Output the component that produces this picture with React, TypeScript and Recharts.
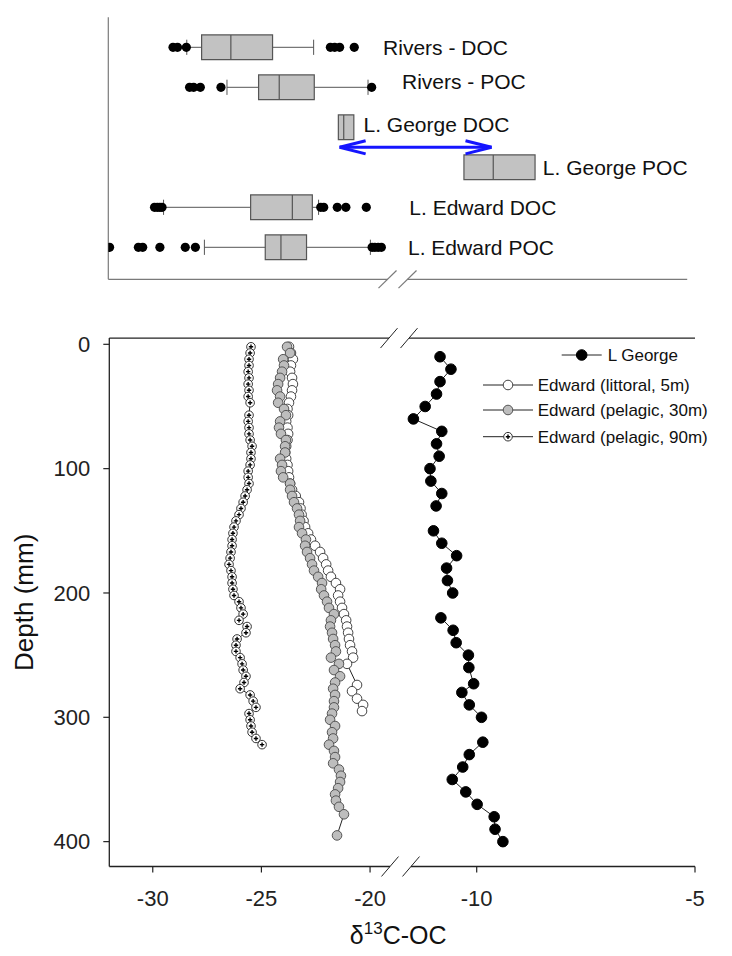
import React from "react";
import {
  ComposedChart,
  Scatter,
  XAxis,
  YAxis,
  ReferenceArea,
  ReferenceLine,
  Legend,
} from "recharts";

const FONT = "'Liberation Sans', Arial, Helvetica, sans-serif";

// δ13C axis, broken between about -19 and -11.5
const xTicks = [-30, -25, -20, -10, -5];
const X_MIN = -32;
const X_MAX = -5;

// upper panel: box plots, top row first
const boxNames = [
  "Rivers - DOC",
  "Rivers - POC",
  "L. George DOC",
  "L. George POC",
  "L. Edward DOC",
  "L. Edward POC",
];
const boxRows = [6, 5, 4, 3, 2, 1];
const whiskerLow = [-28.35, -26.48, -21.3, -10.18, -29.43, -27.53];
const quartile1 = [-27.66, -25.01, -21.3, -10.18, -25.38, -24.7];
const medians = [-26.3, -24.05, -21.05, -9.5, -23.44, -23.97];
const quartile3 = [-24.36, -22.42, -20.58, -8.53, -22.51, -22.78];
const whiskerHigh = [-22.45, -19.92, -20.58, -8.53, -22.22, -19.81];
const outliers = [
  [-28.99, -28.78, -28.37, -21.67, -21.47, -21.24, -20.56],
  [-28.22, -28.03, -27.72, -26.76, -19.75],
  [],
  [],
  [-29.85, -29.72, -29.6, -29.5, -22.12, -21.98, -21.35, -20.95, -20.0],
  [-31.94, -30.6, -30.4, -29.6, -28.42, -27.95, -19.73, -19.6, -19.45, -19.3],
];
const labelAt = [-19.22, -18.34, -20.13, -8.35, -18.0, -18.06];
const labelShift = [0, 0.13, 0.06, 0, 0, 0];
const arrowSpan = [-21.24, -9.54];

// lower panel: depth profiles (depth mm, δ13C)
const georgeDepth = [
  10, 20, 30, 40, 50, 60, 70, 80, 90, 100, 110, 120, 130, 140, 150, 160, 170,
  180, 190, 200, 210, 220, 230, 240, 250, 260, 273, 280, 290, 300, 310, 320,
  330, 340, 350, 360, 370, 380, 390, 400,
];
const georgeD13C = [
  -10.84, -10.59, -10.84, -10.92, -11.18, -11.45, -10.8, -10.92, -10.86,
  -11.07, -11.05, -10.8, -10.93, null, -10.99, -10.8, -10.46, -10.69, -10.67,
  -10.55, null, -10.82, -10.54, -10.47, -10.19, -10.18, -10.07, -10.34,
  -10.17, -9.89, null, -9.86, -10.17, -10.32, -10.56, -10.25, -9.99, -9.6,
  -9.58, -9.4,
];
const edward5m = [
  [2, -23.73], [7, -23.64], [12, -23.55], [17, -23.64], [22, -23.68],
  [27, -23.59], [32, -23.55], [37, -23.59], [42, -23.64], [47, -23.73],
  [52, -23.8], [57, -23.77], [62, -23.86], [67, -23.8], [72, -23.77],
  [77, -23.8], [82, -23.86], [87, -23.9], [92, -23.86], [97, -23.8],
  [102, -23.77], [107, -23.73], [112, -23.68], [117, -23.59], [122, -23.42],
  [127, -23.27], [132, -23.2], [137, -23.15], [142, -23.06], [147, -22.99],
  [152, -22.85], [157, -22.72], [162, -22.53], [167, -22.3], [172, -22.16],
  [177, -22.02], [182, -21.93], [187, -21.8], [192, -21.57], [197, -21.38],
  [202, -21.47], [207, -21.38], [212, -21.29], [217, -21.2], [222, -21.1],
  [227, -21.06], [232, -21.01], [237, -20.97], [242, -20.92], [247, -20.83],
  [252, -20.78], [257, -21.06], [274, -20.6], [279, -20.83], [285, -20.6],
  [290, -20.32], [295, -20.37],
];
const edward30m = [
  [2, -23.82], [7, -23.68], [12, -24.0], [17, -23.96], [22, -24.05],
  [27, -24.14], [32, -24.23], [37, -24.28], [42, -24.14], [47, -24.23],
  [52, -23.96], [57, -23.87], [62, -24.14], [67, -24.19], [72, -24.1],
  [77, -23.87], [82, -23.91], [87, -23.91], [92, -24.14], [97, -24.05],
  [102, -24.1], [107, -24.0], [112, -23.68], [117, -23.68], [122, -23.59],
  [127, -23.5], [132, -23.36], [137, -23.27], [142, -23.22], [147, -23.27],
  [152, -23.13], [157, -22.95], [162, -22.99], [167, -22.9], [172, -22.76],
  [177, -22.67], [182, -22.58], [187, -22.39], [192, -22.21], [197, -22.25],
  [202, -22.12], [207, -21.98], [212, -21.89], [217, -21.66], [222, -21.8],
  [227, -21.84], [232, -21.75], [237, -21.7], [242, -21.61], [247, -21.57],
  [252, -21.8], [257, -21.43], [262, -21.66], [267, -21.38], [272, -21.61],
  [277, -21.7], [282, -21.61], [287, -21.66], [292, -21.66], [297, -21.75],
  [302, -21.84], [307, -21.61], [312, -21.75], [317, -21.7], [322, -21.89],
  [327, -21.66], [332, -21.61], [337, -21.7], [342, -21.43], [347, -21.34],
  [352, -21.38], [357, -21.47], [362, -21.61], [367, -21.57], [372, -21.43],
  [378, -21.2], [395, -21.52],
];
const edward90m = [
  [2, -25.48], [7, -25.52], [12, -25.57], [17, -25.57], [22, -25.61],
  [27, -25.57], [32, -25.61], [37, -25.57], [42, -25.61], [47, -25.52],
  [57, -25.57], [62, -25.61], [67, -25.57], [72, -25.57], [77, -25.52],
  [82, -25.43], [87, -25.48], [92, -25.48], [97, -25.52], [102, -25.61],
  [107, -25.61], [112, -25.57], [117, -25.66], [122, -25.75], [127, -25.84],
  [132, -25.94], [137, -26.03], [142, -26.17], [147, -26.26], [152, -26.31],
  [157, -26.35], [162, -26.35], [167, -26.4], [172, -26.44], [177, -26.49],
  [182, -26.4], [187, -26.35], [192, -26.35], [197, -26.31], [202, -26.26],
  [207, -26.03], [212, -25.94], [217, -25.84], [222, -26.03], [227, -25.66],
  [232, -25.71], [237, -26.12], [242, -26.17], [247, -26.17], [252, -25.98],
  [257, -25.89], [262, -25.84], [267, -25.71], [272, -25.8], [277, -25.98],
  [282, -25.52], [287, -25.38], [292, -25.25], [297, -25.57], [302, -25.52],
  [307, -25.48], [312, -25.43], [317, -25.25], [322, -24.97],
];
const depthTicks = [0, 100, 200, 300, 400];

// each panel has its own pixel pitch left and right of the break
function breakScale(pxLeft: number, pxRight: number, atMinus10: number) {
  return (v: number) =>
    v <= -15 ? (v - X_MIN) * pxLeft : atMinus10 + (v + 10) * pxRight;
}
const uTop = breakScale(21.5, 43.1, 363.4);
const uBot = breakScale(21.73, 43.66, 367.4);

const markers: Record<string, any> = {
  george: { r: 5.3, fill: "#000", stroke: "#000" },
  littoral: { r: 4.8, fill: "#fff", stroke: "#444" },
  pelagic30: { r: 4.8, fill: "#bdbdbd", stroke: "#555" },
  pelagic90: { r: 4.3, fill: "#fff", stroke: "#333", cross: true },
};

const legendRows = [
  { key: "george", name: "L George" },
  { key: "littoral", name: "Edward (littoral, 5m)" },
  { key: "pelagic30", name: "Edward (pelagic, 30m)" },
  { key: "pelagic90", name: "Edward (pelagic, 90m)" },
];

function Marker({ cx, cy, kind }: { cx: number; cy: number; kind: string }) {
  const m = markers[kind];
  if (cx == null || cy == null) return null;
  return (
    <g>
      <circle cx={cx} cy={cy} r={m.r} fill={m.fill} stroke={m.stroke} strokeWidth={1} />
      {m.cross && (
        <path
          d={`M${cx - 2.2},${cy}h4.4M${cx},${cy - 2.2}v4.4`}
          stroke="#000"
          strokeWidth={1.4}
        />
      )}
    </g>
  );
}

const toProfile = (pairs: number[][]) => pairs.map(([d, v]) => ({ u: uBot(v), d }));

const georgeRuns: { u: number; d: number }[][] = [];
{
  let run: { u: number; d: number }[] = [];
  georgeDepth.forEach((d, i) => {
    const v = georgeD13C[i];
    if (v == null) {
      if (run.length) georgeRuns.push(run);
      run = [];
    } else run.push({ u: uBot(v), d });
  });
  if (run.length) georgeRuns.push(run);
}

const topGrey = "#7a7a7a";
const axisDark = "#222";

function TopPanel() {
  const width = uTop(X_MAX);
  const BOX_H = 0.31;
  const CAP_H = 0.19;
  const outlierData = outliers.flatMap((vals, i) =>
    vals.map((v) => ({ u: uTop(v), pos: boxRows[i] }))
  );
  const labelData = boxNames.map((name, i) => ({
    u: uTop(labelAt[i]),
    pos: boxRows[i] + labelShift[i],
    name,
  }));
  const [a1, a2] = arrowSpan.map(uTop);
  const breakL = 279.2;
  const breakR = 299.2;

  return (
    <ComposedChart
      width={732}
      height={300}
      margin={{ top: 17.3, right: 732 - 108.3 - width, bottom: 0.7, left: 48.3 }}
    >
      <XAxis
        type="number"
        dataKey="u"
        domain={[0, width]}
        ticks={xTicks.map(uTop)}
        tick={false}
        tickSize={5}
        tickLine={{ stroke: topGrey }}
        axisLine={false}
        height={20}
        allowDataOverflow
        interval={0}
      />
      <YAxis
        type="number"
        dataKey="pos"
        domain={[0.2, 6.75]}
        ticks={boxRows}
        tick={false}
        tickSize={5}
        tickLine={{ stroke: topGrey }}
        axisLine={{ stroke: topGrey, strokeWidth: 1.2 }}
        width={60}
        allowDataOverflow
        interval={0}
      />

      <ReferenceLine segment={[{ x: 0, y: 0.2 }, { x: breakL, y: 0.2 }]} stroke={topGrey} strokeWidth={1.2} ifOverflow="visible" />
      <ReferenceLine segment={[{ x: breakR, y: 0.2 }, { x: width, y: 0.2 }]} stroke={topGrey} strokeWidth={1.2} ifOverflow="visible" />
      {[breakL, breakR].map((c) => (
        <ReferenceLine
          key={c}
          segment={[{ x: c - 9, y: 0.2 - 0.22 }, { x: c + 9, y: 0.2 + 0.22 }]}
          stroke={topGrey}
          strokeWidth={1.2}
          ifOverflow="visible"
        />
      ))}

      {boxRows.map((row, i) => {
        const lo = uTop(whiskerLow[i]);
        const q1 = uTop(quartile1[i]);
        const md = uTop(medians[i]);
        const q3 = uTop(quartile3[i]);
        const hi = uTop(whiskerHigh[i]);
        return (
          <React.Fragment key={boxNames[i]}>
            {lo < q1 && (
              <>
                <ReferenceLine segment={[{ x: lo, y: row }, { x: q1, y: row }]} stroke="#555" strokeWidth={1} />
                <ReferenceLine segment={[{ x: lo, y: row - CAP_H }, { x: lo, y: row + CAP_H }]} stroke="#555" strokeWidth={1} />
              </>
            )}
            {hi > q3 && (
              <>
                <ReferenceLine segment={[{ x: q3, y: row }, { x: hi, y: row }]} stroke="#555" strokeWidth={1} />
                <ReferenceLine segment={[{ x: hi, y: row - CAP_H }, { x: hi, y: row + CAP_H }]} stroke="#555" strokeWidth={1} />
              </>
            )}
            <ReferenceArea
              x1={q1}
              x2={q3}
              y1={row - BOX_H}
              y2={row + BOX_H}
              fill="#c2c2c2"
              fillOpacity={1}
              stroke="#555"
              strokeWidth={1.2}
            />
            <ReferenceLine segment={[{ x: md, y: row - BOX_H }, { x: md, y: row + BOX_H }]} stroke="#555" strokeWidth={1.2} />
          </React.Fragment>
        );
      })}

      <ReferenceLine segment={[{ x: a1, y: 3.5 }, { x: a2, y: 3.5 }]} stroke="#1515ff" strokeWidth={3} ifOverflow="visible" />
      <ReferenceLine segment={[{ x: a1, y: 3.5 }, { x: a1 + 26, y: 3.5 + 0.165 }]} stroke="#1515ff" strokeWidth={3} ifOverflow="visible" />
      <ReferenceLine segment={[{ x: a1, y: 3.5 }, { x: a1 + 26, y: 3.5 - 0.165 }]} stroke="#1515ff" strokeWidth={3} ifOverflow="visible" />
      <ReferenceLine segment={[{ x: a2, y: 3.5 }, { x: a2 - 26, y: 3.5 + 0.165 }]} stroke="#1515ff" strokeWidth={3} ifOverflow="visible" />
      <ReferenceLine segment={[{ x: a2, y: 3.5 }, { x: a2 - 26, y: 3.5 - 0.165 }]} stroke="#1515ff" strokeWidth={3} ifOverflow="visible" />

      <Scatter
        data={outlierData}
        isAnimationActive={false}
        shape={(p: any) => <circle cx={p.cx} cy={p.cy} r={4.6} fill="#000" />}
      />
      <Scatter
        data={labelData}
        isAnimationActive={false}
        shape={(p: any) => (
          <text
            x={p.cx}
            y={p.cy}
            dy="0.35em"
            fontSize={21}
            fontFamily={FONT}
            fill="#111"
          >
            {p.payload.name}
          </text>
        )}
      />
    </ComposedChart>
  );
}

function XTitle(props: any) {
  const vb = props.viewBox || { x: 109.3, y: 566.5, width: 585.7 };
  return (
    <text
      x={vb.x + vb.width / 2 - 4}
      y={vb.y + 77}
      textAnchor="middle"
      fontSize={25}
      fontFamily={FONT}
      fill="#111"
    >
      δ
      <tspan dy={-10} fontSize={17}>13</tspan>
      <tspan dy={10}>C-OC</tspan>
    </text>
  );
}

function YTitle(props: any) {
  const vb = props.viewBox || { x: 49.3, y: 38.1, height: 528.4 };
  const cx = vb.x - 25;
  const cy = vb.y + vb.height / 2;
  return (
    <text
      x={cx}
      y={cy}
      transform={`rotate(-90, ${cx}, ${cy})`}
      textAnchor="middle"
      dy="0.35em"
      fontSize={26}
      fontFamily={FONT}
      fill="#111"
    >
      Depth (mm)
    </text>
  );
}

function LegendBox() {
  const rows = [
    { x1: 91.7, x2: 131.7, y: 15, tx: 137.7 },
    { x1: 13, x2: 63, y: 45, tx: 67.7 },
    { x1: 13, x2: 63, y: 70, tx: 67.7 },
    { x1: 13, x2: 63, y: 96.7, tx: 67.7 },
  ];
  return (
    <svg width={262} height={112}>
      {legendRows.map((s, i) => {
        const r = rows[i];
        return (
          <g key={s.key}>
            <line x1={r.x1} x2={r.x2} y1={r.y} y2={r.y} stroke="#222" strokeWidth={1} />
            <Marker cx={(r.x1 + r.x2) / 2} cy={r.y} kind={s.key} />
            <text x={r.tx} y={r.y} dy="0.35em" fontSize={17} fontFamily={FONT} fill="#111">
              {s.name}
            </text>
          </g>
        );
      })}
    </svg>
  );
}

function DepthPanel() {
  const width = uBot(X_MAX);
  const labelFor = (u: number) => {
    const t = xTicks.find((v) => Math.abs(uBot(v) - u) < 0.01);
    return t == null ? "" : String(t);
  };
  const breaksBottom = [280.7, 301.7];
  const breaksTop = [279.7, 299.7];
  const lineStyle = { stroke: axisDark, strokeWidth: 1.3, ifOverflow: "visible" as const };
  const lineOf = { stroke: "#222", strokeWidth: 1 };

  return (
    <ComposedChart
      width={732}
      height={656}
      margin={{ top: 38.1, right: 732 - 109.3 - width, bottom: 29.5, left: 49.3 }}
    >
      <XAxis
        type="number"
        dataKey="u"
        domain={[0, width]}
        ticks={xTicks.map(uBot)}
        tickFormatter={labelFor}
        tick={{ fontSize: 22, fill: "#222", fontFamily: FONT }}
        tickSize={6}
        tickMargin={18}
        tickLine={{ stroke: axisDark, strokeWidth: 1.2 }}
        axisLine={false}
        height={60}
        allowDataOverflow
        interval={0}
        label={XTitle}
      />
      <YAxis
        type="number"
        dataKey="d"
        domain={[-5, 420]}
        reversed
        ticks={depthTicks}
        tick={{ fontSize: 22, fill: "#222", fontFamily: FONT }}
        tickSize={6}
        tickMargin={13}
        tickLine={{ stroke: axisDark, strokeWidth: 1.2 }}
        axisLine={{ stroke: axisDark, strokeWidth: 1.3 }}
        width={60}
        allowDataOverflow
        interval={0}
        label={YTitle}
      />

      <ReferenceLine segment={[{ x: 0, y: 420 }, { x: breaksBottom[0], y: 420 }]} {...lineStyle} />
      <ReferenceLine segment={[{ x: breaksBottom[1], y: 420 }, { x: width, y: 420 }]} {...lineStyle} />
      <ReferenceLine segment={[{ x: 0, y: -5 }, { x: breaksTop[0], y: -5 }]} {...lineStyle} />
      <ReferenceLine segment={[{ x: breaksTop[1], y: -5 }, { x: width, y: -5 }]} {...lineStyle} />
      {breaksBottom.map((c) => (
        <ReferenceLine key={"b" + c} segment={[{ x: c - 8.5, y: 428 }, { x: c + 8.5, y: 412 }]} {...lineStyle} strokeWidth={1} />
      ))}
      {breaksTop.map((c) => (
        <ReferenceLine key={"t" + c} segment={[{ x: c - 8.5, y: 3 }, { x: c + 8.5, y: -13 }]} {...lineStyle} strokeWidth={1} />
      ))}

      {georgeRuns.map((run, i) => (
        <Scatter
          key={"george" + i}
          data={run}
          line={lineOf}
          isAnimationActive={false}
          shape={(p: any) => <Marker cx={p.cx} cy={p.cy} kind="george" />}
        />
      ))}
      <Scatter
        data={toProfile(edward5m)}
        line={lineOf}
        isAnimationActive={false}
        shape={(p: any) => <Marker cx={p.cx} cy={p.cy} kind="littoral" />}
      />
      <Scatter
        data={toProfile(edward30m)}
        line={lineOf}
        isAnimationActive={false}
        shape={(p: any) => <Marker cx={p.cx} cy={p.cy} kind="pelagic30" />}
      />
      <Scatter
        data={toProfile(edward90m)}
        line={lineOf}
        isAnimationActive={false}
        shape={(p: any) => <Marker cx={p.cx} cy={p.cy} kind="pelagic90" />}
      />

      <Legend
        layout="vertical"
        align="center"
        verticalAlign="middle"
        content={() => <LegendBox />}
        wrapperStyle={{ top: 40, left: 470, width: 262, height: 112 }}
      />
    </ComposedChart>
  );
}

export default function App() {
  return (
    <div
      style={{
        position: "absolute",
        left: 0,
        top: 0,
        width: 732,
        height: 956,
        background: "#fff",
        fontFamily: FONT,
      }}
    >
      <div style={{ position: "absolute", left: 0, top: 0 }}>
        <TopPanel />
      </div>
      <div style={{ position: "absolute", left: 0, top: 300 }}>
        <DepthPanel />
      </div>
    </div>
  );
}
